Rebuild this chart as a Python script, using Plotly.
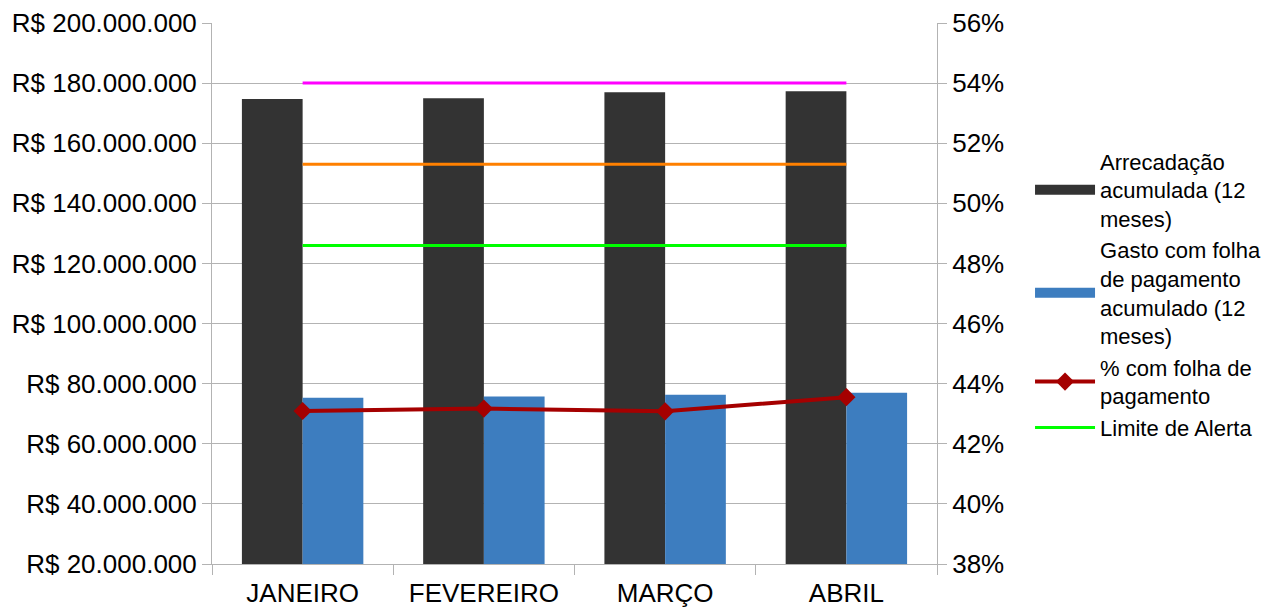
import plotly.graph_objects as go

meses = ["JANEIRO", "FEVEREIRO", "MARÇO", "ABRIL"]
arrecadacao = [174.7e6, 175.0e6, 177.0e6, 177.3e6]
gasto_folha = [75.3e6, 75.7e6, 76.3e6, 77.0e6]
pct_folha = [43.09, 43.17, 43.08, 43.55]
limite_maximo = [54.0, 54.0, 54.0, 54.0]
limite_prudencial = [51.3, 51.3, 51.3, 51.3]
limite_alerta = [48.6, 48.6, 48.6, 48.6]

left_ticks = [20e6, 40e6, 60e6, 80e6, 100e6, 120e6, 140e6, 160e6, 180e6, 200e6]
left_labels = ["R$ 20.000.000", "R$ 40.000.000", "R$ 60.000.000", "R$ 80.000.000",
               "R$ 100.000.000", "R$ 120.000.000", "R$ 140.000.000", "R$ 160.000.000",
               "R$ 180.000.000", "R$ 200.000.000"]
right_ticks = [38, 40, 42, 44, 46, 48, 50, 52, 54, 56]
right_labels = ["38%", "40%", "42%", "44%", "46%", "48%", "50%", "52%", "54%", "56%"]

FONT = "Liberation Sans, Arial, sans-serif"
DARK = "#333333"
BLUE = "#3d7dbf"

fig = go.Figure()
fig.add_trace(go.Bar(x=meses, y=arrecadacao, name="Arrecadação", showlegend=False,
                     marker=dict(color=DARK, line=dict(width=0))))
fig.add_trace(go.Bar(x=meses, y=gasto_folha, name="Gasto", showlegend=False,
                     marker=dict(color=BLUE, line=dict(width=0))))
fig.add_trace(go.Scatter(x=meses, y=limite_maximo, yaxis="y2", mode="lines", showlegend=False,
                         line=dict(color="#ff00ff", width=3)))
fig.add_trace(go.Scatter(x=meses, y=limite_prudencial, yaxis="y2", mode="lines", showlegend=False,
                         line=dict(color="#ff8000", width=3)))
fig.add_trace(go.Scatter(x=meses, y=pct_folha, yaxis="y2", mode="lines+markers",
                         showlegend=False,
                         line=dict(color="#a50000", width=4),
                         marker=dict(symbol="diamond", size=14, color="#a50000")))
fig.add_trace(go.Scatter(x=meses, y=limite_alerta, yaxis="y2", mode="lines",
                         showlegend=False,
                         line=dict(color="#00ff00", width=3)))

# legend entries (no data points)
fig.add_trace(go.Scatter(x=[None], y=[None], mode="lines", name="Arrecadação<br>acumulada (12<br>meses)",
                         line=dict(color=DARK, width=14)))
fig.add_trace(go.Scatter(x=[None], y=[None], mode="lines",
                         name="Gasto com folha<br>de pagamento<br>acumulado (12<br>meses)",
                         line=dict(color=BLUE, width=14)))
fig.add_trace(go.Scatter(x=[None], y=[None], mode="lines+markers", name="% com folha de<br>pagamento",
                         line=dict(color="#a50000", width=4),
                         marker=dict(symbol="diamond", size=14, color="#a50000")))
fig.add_trace(go.Scatter(x=[None], y=[None], mode="lines", name="Limite de Alerta",
                         line=dict(color="#00ff00", width=3)))

fig.update_layout(
    width=1277, height=610,
    margin=dict(l=212, r=340, t=23, b=46, autoexpand=False),
    paper_bgcolor="white", plot_bgcolor="white",
    font=dict(family=FONT, size=26, color="black"),
    barmode="group", bargap=0.33, bargroupgap=0,
    xaxis=dict(type="category", showgrid=False, showline=True, linecolor="#b3b3b3", linewidth=1,
               ticks="outside", tickson="boundaries", ticklen=10, tickcolor="#b3b3b3",
               tickfont=dict(size=26), ticklabelstandoff=6, automargin=False),
    yaxis=dict(range=[20e6, 200e6], tickvals=left_ticks, ticktext=left_labels,
               showgrid=True, gridcolor="#b3b3b3", gridwidth=1,
               showline=True, linecolor="#b3b3b3", ticks="outside", ticklen=9, tickcolor="#b3b3b3",
               tickfont=dict(size=26), zeroline=False, automargin=False),
    yaxis2=dict(range=[38, 56], tickvals=right_ticks, ticktext=right_labels, overlaying="y", side="right",
                showgrid=False, showline=True, linecolor="#b3b3b3", ticks="outside", ticklen=9,
                tickcolor="#b3b3b3", tickfont=dict(size=26), zeroline=False, automargin=False),
    legend=dict(xref="container", yref="container", x=0.8066, y=0.770, xanchor="left", yanchor="top",
                font=dict(size=22), bgcolor="rgba(0,0,0,0)", tracegroupgap=0, itemwidth=60,
                maxheight=600),
)

fig.write_html("out.html")
